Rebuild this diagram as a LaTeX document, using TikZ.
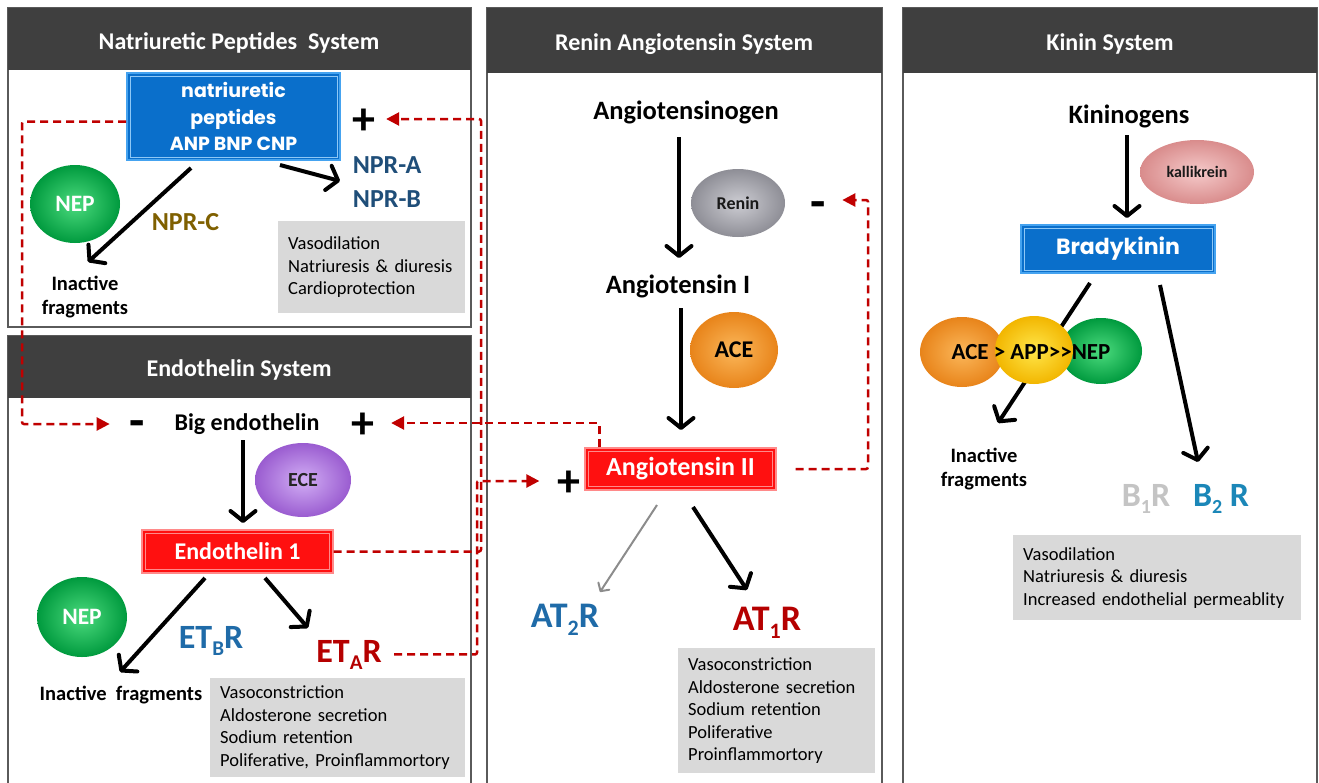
\documentclass[tikz,border=0pt]{standalone}
\usepackage{fontspec}
\setmainfont{Carlito}
\newfontfamily\geofont{Poppins}
\usetikzlibrary{arrows.meta,shapes.geometric}
\definecolor{hdrc}{HTML}{3F3F3F}
\definecolor{pbordc}{HTML}{5A5A5A}
\definecolor{npbluec}{HTML}{0A6FCB}
\definecolor{npbordc}{HTML}{45A3F0}
\definecolor{redboxc}{HTML}{FF1010}
\definecolor{redbordc}{HTML}{FF8A8A}
\definecolor{dredc}{HTML}{C00000}
\definecolor{gboxc}{HTML}{D9D9D9}
\definecolor{nprc}{HTML}{1F4E79}
\definecolor{recbluec}{HTML}{1F6BA8}
\definecolor{recredc}{HTML}{B50000}
\definecolor{brownc}{HTML}{7F6000}
\definecolor{b2c}{HTML}{1B87B8}
\definecolor{b1c}{HTML}{C4C4C4}
\definecolor{garc}{HTML}{8C8C8C}
\definecolor{nepin}{HTML}{4CDB7E}
\definecolor{nepout}{HTML}{009A3E}
\definecolor{ecein}{HTML}{D2AEF5}
\definecolor{eceout}{HTML}{9A5CD0}
\definecolor{renin}{HTML}{CDCDD3}
\definecolor{renout}{HTML}{8E8E96}
\definecolor{acein}{HTML}{FBB75A}
\definecolor{aceout}{HTML}{E8841A}
\definecolor{kalin}{HTML}{F5CACA}
\definecolor{kalout}{HTML}{D98C8C}
\definecolor{appin}{HTML}{FFE64A}
\definecolor{appout}{HTML}{F2B600}
\newcommand\fsz[2]{\fontsize{#1}{#2}\selectfont}
\newcommand\subtx[3]{\raisebox{-#2pt}{\fontsize{#1}{#1}\selectfont #3}}
\begin{document}
\begin{tikzpicture}[x=1pt,y=-1pt,
  panel/.style={draw=pbordc,line width=2.5pt,fill=white},
  header/.style={fill=hdrc},
  title/.style={anchor=base,text=white,font=\fsz{24}{27}\bfseries},
  lbl/.style={anchor=base,font=\fsz{26.5}{27}\bfseries},
  frag/.style={font=\fsz{20.5}{24}\bfseries,align=center},
  npr/.style={anchor=base,text=nprc,font=\fsz{26}{26}\bfseries},
  rec/.style={anchor=base,font=\fsz{35}{35}\bfseries},
  pm/.style={inner sep=0pt,font=\fsz{46}{46}\bfseries,text height=30pt,text depth=0pt},
  mn/.style={inner sep=0pt,font=\fsz{50}{50}\bfseries,text height=27.5pt,text depth=0pt},
  gbox/.style={fill=gboxc,inner xsep=10pt,inner ysep=4pt,align=left,anchor=north west,font=\fsz{18.5}{22.5}\selectfont},
  npbox/.style={rectangle,fill=npbluec,draw=npbordc,line width=2pt,text=white,
    path picture={\draw[npbordc!60!white,line width=0.8pt] ([shift={(3pt,-3pt)}]path picture bounding box.north west) rectangle ([shift={(-3pt,3pt)}]path picture bounding box.south east);}},
  redbox/.style={rectangle,fill=redboxc,draw=redbordc,line width=1.2pt,text=white,
    path picture={\draw[redbordc,line width=0.8pt] ([shift={(3.5pt,-3.5pt)}]path picture bounding box.north west) rectangle ([shift={(-3.5pt,3.5pt)}]path picture bounding box.south east);}},
  enz/.style={ellipse,inner sep=0pt,font=\fsz{23.5}{26}\bfseries},
  blk/.style={draw=black,line width=4pt,-{Straight Barb[length=10pt,width=25pt,round]}},
  garrow/.style={draw=garc,line width=2pt,-{Straight Barb[length=6pt,width=13pt,round]}},
  redd/.style={draw=dredc,line width=2.5pt,dash pattern=on 8pt off 5pt,rounded corners=2pt,-{Triangle[length=13pt,width=13pt]}}
]
\useasboundingbox (0,0) rectangle (1319,782);
\fill[white] (0,0) rectangle (1319,782);
% ---------- panels ----------
\draw[panel] (8,8) rectangle (471,327);
\fill[header] (8,8) rectangle (471,70);
\draw[panel] (8,336) rectangle (471,795);
\fill[header] (8,336) rectangle (471,398);
\draw[panel] (487,8) rectangle (882,795);
\fill[header] (487,8) rectangle (882,73);
\draw[panel] (903,8) rectangle (1317,795);
\fill[header] (903,8) rectangle (1317,73);
\node[title] (tNP) at (239,49) {Natriuretic Peptides~ System};
\node[title] (tET) at (239,376) {Endothelin System};
\node[title] (tRAS) at (684,50) {Renin Angiotensin System};
\node[title] (tKin) at (1110,50) {Kinin System};
% ---------- Natriuretic peptides ----------
\node[npbox,minimum width=213pt,minimum height=87pt,align=center,font=\geofont\bfseries\fsz{19}{26.5}] (np) at (233.5,116.5) {natriuretic\\peptides\\ANP BNP CNP};
\node[pm] (plusNP) at (363.5,119) {+};
\node[npr] (npra) at (387,173) {NPR-A};
\node[npr] (nprb) at (387,207) {NPR-B};
\node[npr,text=brownc] (nprC) at (185.5,230) {NPR-C};
\node[enz,minimum width=90pt,minimum height=78pt,inner color=nepin,outer color=nepout,text=white] (nep1) at (75,204) {NEP};
\node[frag] (inact1) at (85,297) {Inactive\\fragments};
\node[gbox,text width=167pt,minimum height=92pt] (fxNP) at (278,221) {Vasodilation\\Natriuresis \& diuresis\\Cardioprotection};
\coordinate (a1s) at (191,168); \coordinate (a1e) at (88,262);
\coordinate (a2s) at (280,165); \coordinate (a2e) at (340,181);
\draw[blk] (a1s) -- (a1e);
\draw[blk] (a2s) -- (a2e);
% ---------- Endothelin ----------
\node[mn] (minusBE) at (137.5,424) {-};
\node[lbl,font=\fsz{24}{24}\bfseries] (bigET) at (247,430) {Big endothelin};
\node[pm] (plusBE) at (362.5,423) {+};
\node[enz,minimum width=96pt,minimum height=74pt,inner color=ecein,outer color=eceout,text=black!85,font=\fsz{20}{22}\bfseries] (ece) at (303,480) {ECE};
\node[redbox,minimum width=191pt,minimum height=43pt,font=\fsz{24}{24}\bfseries] (et1) at (237.5,551.5) {Endothelin 1};
\node[enz,minimum width=90pt,minimum height=80pt,inner color=nepin,outer color=nepout,text=white] (nep2) at (82,617) {NEP};
\node[rec,text=recbluec,font=\fsz{34}{34}\bfseries] (etbr) at (211,648) {ET\subtx{21}{7}{B}R};
\node[rec,text=recredc,font=\fsz{34}{34}\bfseries] (etar) at (349,662) {ET\subtx{21}{7}{A}R};
\node[anchor=base,font=\fsz{20.5}{24}\bfseries] (inact2) at (121,700) {Inactive~ fragments};
\node[gbox,text width=235pt,minimum height=99pt] (fxET) at (210,678) {Vasoconstriction\\Aldosterone secretion\\Sodium retention\\Poliferative, Proinflammortory};
\coordinate (b1s) at (243,440); \coordinate (b1e) at (243,523);
\coordinate (b2s) at (205,578); \coordinate (b2e) at (120,672);
\coordinate (b3s) at (265,578); \coordinate (b3e) at (308,628);
\draw[blk] (b1s) -- (b1e);
\draw[blk] (b2s) -- (b2e);
\draw[blk] (b3s) -- (b3e);
% ---------- Renin angiotensin ----------
\node[lbl] (agen) at (686,119) {Angiotensinogen};
\node[enz,minimum width=94pt,minimum height=68pt,inner color=renin,outer color=renout,text=black!90,font=\fsz{18}{20}\bfseries] (renin) at (738,203) {Renin};
\node[mn] (minusRen) at (818.5,205) {-};
\node[lbl] (ang1) at (678,293) {Angiotensin I};
\node[enz,minimum width=88pt,minimum height=76pt,inner color=acein,outer color=aceout,text=black,font=\fsz{24}{26}\bfseries] (ace1) at (734,350) {ACE};
\node[redbox,minimum width=191pt,minimum height=42pt,font=\fsz{26}{26}\bfseries] (ang2) at (680.5,469) {Angiotensin II};
\node[pm] (plusAng) at (569,481) {+};
\node[rec,text=recbluec,font=\fsz{36}{36}\bfseries] (at2r) at (565,627) {AT\subtx{22}{8}{2}R};
\node[rec,text=recredc,font=\fsz{36}{36}\bfseries] (at1r) at (767,630) {AT\subtx{22}{8}{1}R};
\node[gbox,text width=177pt,minimum height=125pt] (fxRAS) at (678,648) {Vasoconstriction\\Aldosterone secretion\\Sodium retention\\Poliferative\\Proinflammortory};
\coordinate (c1s) at (679,137); \coordinate (c1e) at (679,258);
\coordinate (c2s) at (681,308); \coordinate (c2e) at (681,430);
\coordinate (c3s) at (657,505); \coordinate (c3e) at (600,592);
\coordinate (c4s) at (693,507); \coordinate (c4e) at (747,590);
\draw[blk] (c1s) -- (c1e);
\draw[blk] (c2s) -- (c2e);
\draw[garrow] (c3s) -- (c3e);
\draw[blk] (c4s) -- (c4e);
% ---------- Kinin ----------
\node[lbl] (kgen) at (1129,123) {Kininogens};
\node[enz,minimum width=114pt,minimum height=64pt,inner color=kalin,outer color=kalout,text=black!90,font=\fsz{16}{18}\bfseries] (kall) at (1197,172) {kallikrein};
\node[npbox,minimum width=194pt,minimum height=48pt,font=\geofont\bfseries\fsz{22}{24}] (brady) at (1118,249) {Bradykinin};
\coordinate (d1s) at (1127,135); \coordinate (d1e) at (1127,218);
\coordinate (d2s) at (1090,283); \coordinate (d2e) at (998,423);
\coordinate (d3s) at (1160,285); \coordinate (d3e) at (1198,462);
\draw[blk] (d1s) -- (d1e);
\draw[blk] (d2s) -- (d2e);
\node[enz,minimum width=84pt,minimum height=70pt,inner color=acein,outer color=aceout] (ace2) at (962,352) {};
\node[enz,minimum width=82pt,minimum height=66pt,inner color=nepin,outer color=nepout] (nep3) at (1101,351) {};
\node[enz,minimum width=78pt,minimum height=68pt,inner color=appin,outer color=appout] (app) at (1034,350) {};
\node[font=\fsz{23}{23}\bfseries] (kinEnz) at (1031,352) {ACE > APP>{}>NEP};
\draw[blk] (d3s) -- (d3e);
\node[frag] (inact3) at (984,469) {Inactive\\fragments};
\node[rec,text=b1c,font=\fsz{34}{34}\bfseries] (b1r) at (1146,506) {B\subtx{20}{7}{1}R};
\node[rec,text=b2c,font=\fsz{34}{34}\bfseries] (b2r) at (1221,506) {B\subtx{20}{7}{2} R};
\node[gbox,text width=268pt,minimum height=85pt] (fxKin) at (1013,535) {Vasodilation\\Natriuresis \& diuresis\\Increased endothelial permeablity};
% ---------- feedback (dashed) ----------
\coordinate (pL) at (22,0);
\coordinate (busA) at (481,0);
\coordinate (busB) at (477,0);
\coordinate (busC) at (868,200);
\coordinate (renTip) at ([xshift=16pt]minusRen.east);
\draw[redd] ([yshift=-5pt]np.west) -| (pL |- minusBE) -- ([xshift=-20pt]minusBE.west);
\draw[redd] ([xshift=15pt]ang2.north west) |- ([xshift=17pt]plusBE.east);
\draw[redd] (et1.east) -- (et1.east -| busA) |- ([xshift=11pt]plusNP.east);
\draw[redd] ([xshift=9pt]etar.east) -- (etar.east -| busB) |- ([xshift=-18pt]plusAng.west);
\draw[redd] ([xshift=19pt]ang2.east) -| (busC) -- (busC -| renTip);
\end{tikzpicture}
\end{document}
